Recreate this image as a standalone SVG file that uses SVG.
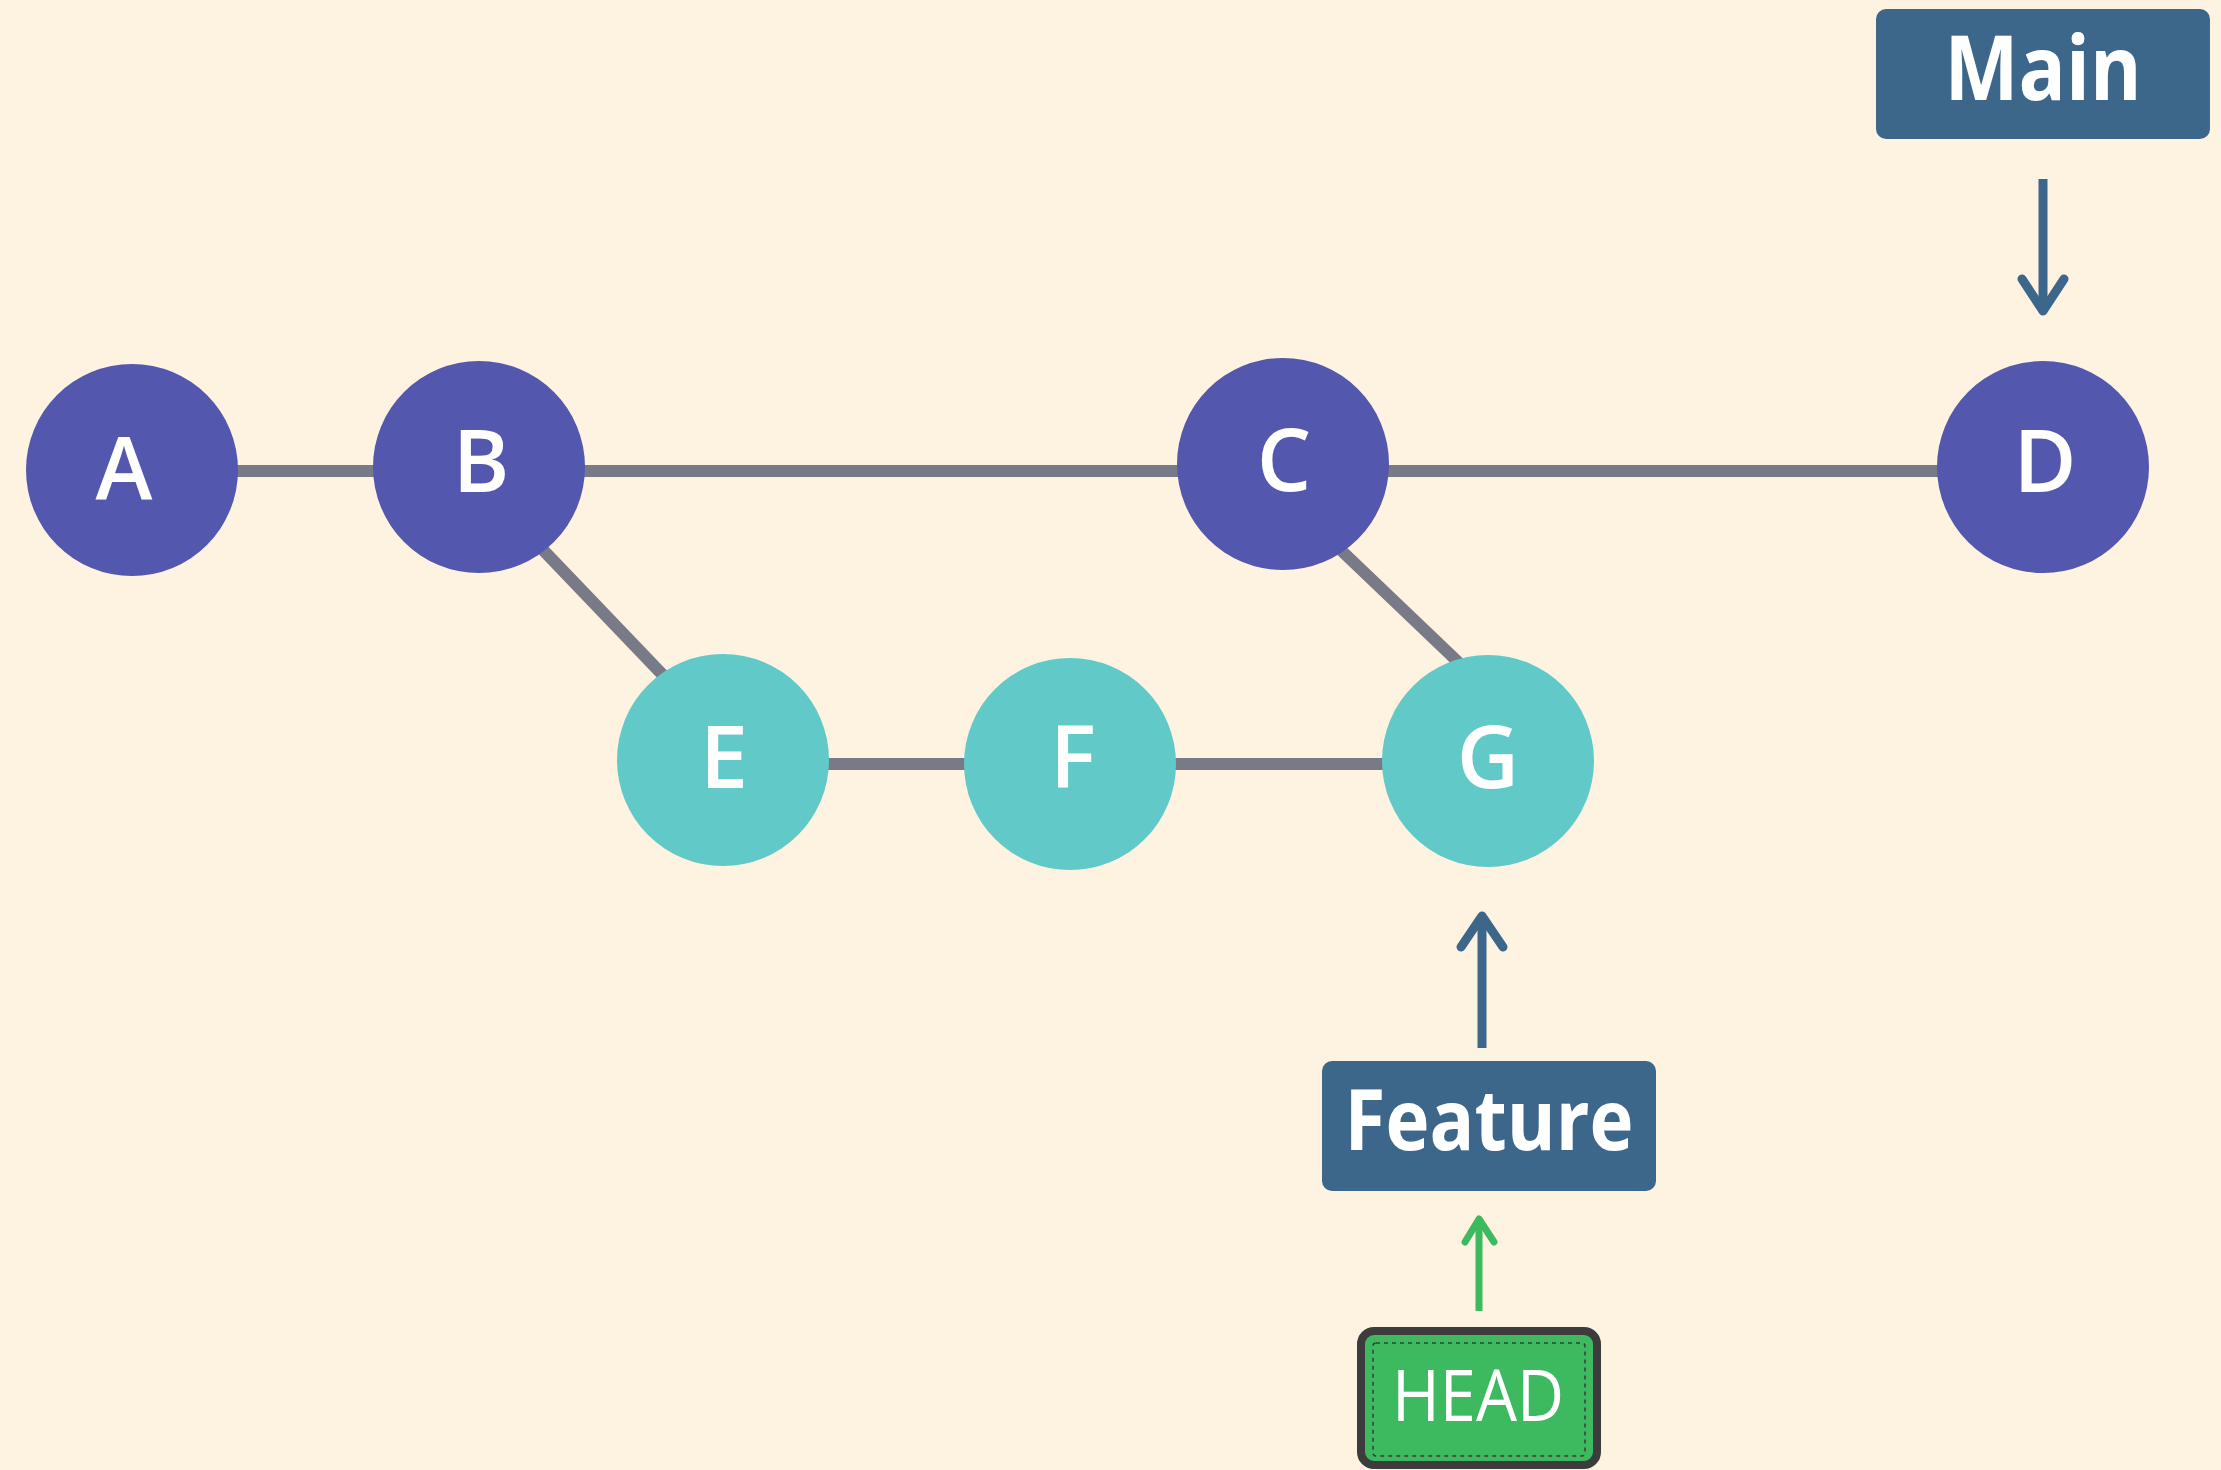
<svg xmlns="http://www.w3.org/2000/svg" width="2221" height="1470" viewBox="0 0 2221 1470">
<style>
.bg{fill:#fef3e1}
.edge{stroke:#787b87;stroke-width:12;fill:none}
.main{fill:#5457ae}
.feat{fill:#61c9c8}
.nl{fill:#fff;font-family:"Open Sans","Liberation Sans",sans-serif;font-weight:600;font-size:86px;text-anchor:middle}
.box{fill:#3c678b}
.bl{fill:#fff;font-family:"Open Sans","Liberation Sans",sans-serif;font-weight:700;text-anchor:middle}
.ptr{stroke:#3c678b;stroke-width:9;fill:none;stroke-linecap:round;stroke-linejoin:round}
.hptr{stroke:#3dba5f;stroke-width:7;fill:none;stroke-linecap:round;stroke-linejoin:round}
.shaft{stroke-linecap:butt}
</style>
<rect class="bg" x="0" y="0" width="2221" height="1470"/>
<g id="connectors">
<line class="edge" x1="132" y1="471" x2="479" y2="471"/>
<line class="edge" x1="479" y1="471" x2="2043" y2="471"/>
<line class="edge" x1="723" y1="764" x2="1488" y2="764"/>
<line class="edge" x1="523" y1="529" x2="681" y2="694"/>
<line class="edge" x1="1323" y1="533" x2="1479" y2="682"/>
<g id="ptr-main">
<line class="ptr shaft" x1="2043" y1="179" x2="2043" y2="311"/>
<polyline class="ptr" points="2022,279 2043,311 2064,279"/>
</g>
<g id="ptr-feature">
<line class="ptr shaft" x1="1482" y1="1048" x2="1482" y2="916"/>
<polyline class="ptr" points="1461,947 1482,916 1503,947"/>
</g>
<g id="ptr-head">
<line class="hptr shaft" x1="1479" y1="1311" x2="1479" y2="1219"/>
<polyline class="hptr" points="1465,1242 1479,1219 1494,1242"/>
</g>
</g>
<g id="node-A"><circle class="main" cx="132" cy="470" r="106"/><text class="nl" x="124" y="499">A</text></g>
<g id="node-B"><circle class="main" cx="479" cy="467" r="106"/><text class="nl" x="481" y="492">B</text></g>
<g id="node-C"><circle class="main" cx="1283" cy="464" r="106"/><text class="nl" x="1284" y="491">C</text></g>
<g id="node-D"><circle class="main" cx="2043" cy="467" r="106"/><text class="nl" x="2045" y="492">D</text></g>
<g id="node-E"><circle class="feat" cx="723" cy="760" r="106"/><text class="nl" x="724" y="788">E</text></g>
<g id="node-F"><circle class="feat" cx="1070" cy="764" r="106"/><text class="nl" x="1073" y="788">F</text></g>
<g id="node-G"><circle class="feat" cx="1488" cy="761" r="106"/><text class="nl" x="1488" y="788">G</text></g>
<g id="label-main"><rect class="box" x="1876" y="9" width="334" height="130" rx="10"/><text class="bl" x="2043" y="100" font-size="90" textLength="197" lengthAdjust="spacingAndGlyphs">Main</text></g>
<g id="label-feature"><rect class="box" x="1322" y="1061" width="334" height="130" rx="10"/><text class="bl" x="1489" y="1150" font-size="85" textLength="289" lengthAdjust="spacingAndGlyphs">Feature</text></g>
<g id="label-head">
<rect x="1361" y="1331" width="236" height="134" rx="13" fill="#3dba5f" stroke="#3c3c3c" stroke-width="8"/>
<rect x="1373" y="1343" width="212" height="113" rx="3" fill="none" stroke="#3c3c3c" stroke-width="1.5" stroke-dasharray="4 4"/>
<text x="1478" y="1421" fill="#fff" font-family="'Open Sans','Liberation Sans',sans-serif" font-weight="400" font-size="71" text-anchor="middle" textLength="172" lengthAdjust="spacingAndGlyphs">HEAD</text>
</g>
</svg>
